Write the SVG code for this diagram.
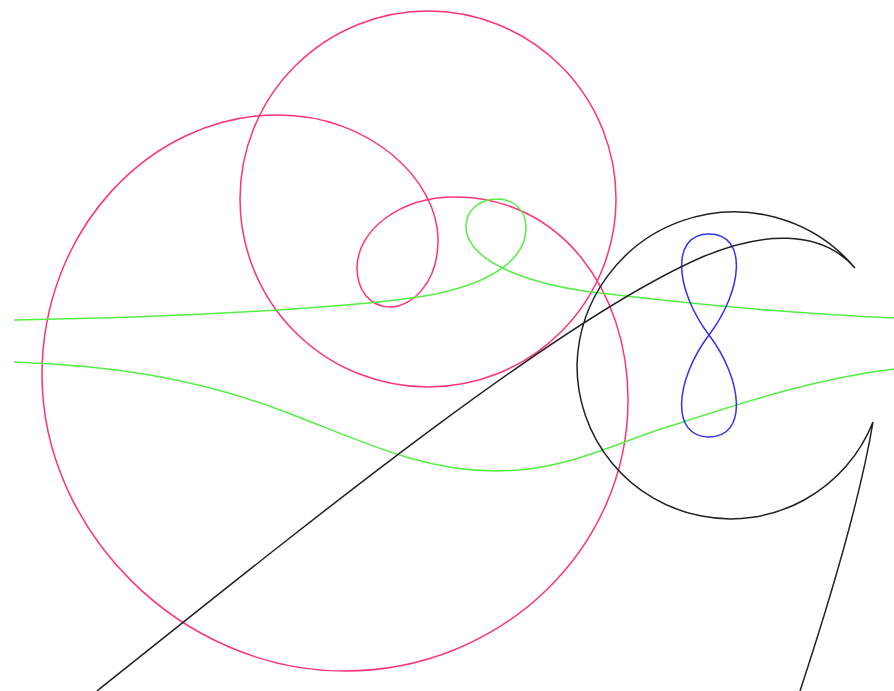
<svg xmlns="http://www.w3.org/2000/svg" width="894" height="691" viewBox="0 0 894 691">
<style>
.c{fill:none;stroke-width:1.5}
.pink{stroke:#ff3377}
.green{stroke:#55ee44}
.blue{stroke:#3333ee}
.black{stroke:#222}
</style>
<rect width="894" height="691" fill="#fff"/>
<circle id="pink-circle" class="c pink" cx="428" cy="199" r="188"/>
<path id="pink-spiral" class="c pink" d="M278,115 C370,115 438,180 438,240 C438,285 410,307 390,307 C370,307 357,290 357,268 C357,230 400,197 455,197 C560,197 628,290 628,400 C628,550 500,671 345,671 C180,671 42,530 42,375 C42,230 150,115 278,115 Z"/>
<path id="green-upper" class="c green" d="M14,320 C200,317 380,306 440,293 C490,282 526,260 526,228 C526,208 512,199 497,199 C478,199 466,212 466,226 C466,262 530,285 600,293 C700,305 800,314 894,318"/>
<path id="green-lower" class="c green" d="M14,362 C120,366 200,380 280,410 C360,440 420,471 495,471 C570,471 620,440 680,423 C750,400 820,378 894,369"/>
<path id="blue-eight" class="c blue" d="M709,335 C743,290 748,234 709,234 C670,234 675,290 709,335 C743,380 748,437 709,437 C670,437 675,380 709,335 Z"/>
<path id="black-curve" class="c black" d="M97,691 C330,505 560,320 700,258 C760,232 820,228 855,268 A157.5,157.5 0 0 0 577,365 A153.4,153.4 0 0 0 873,422 C860,500 830,600 800,691"/>
</svg>
